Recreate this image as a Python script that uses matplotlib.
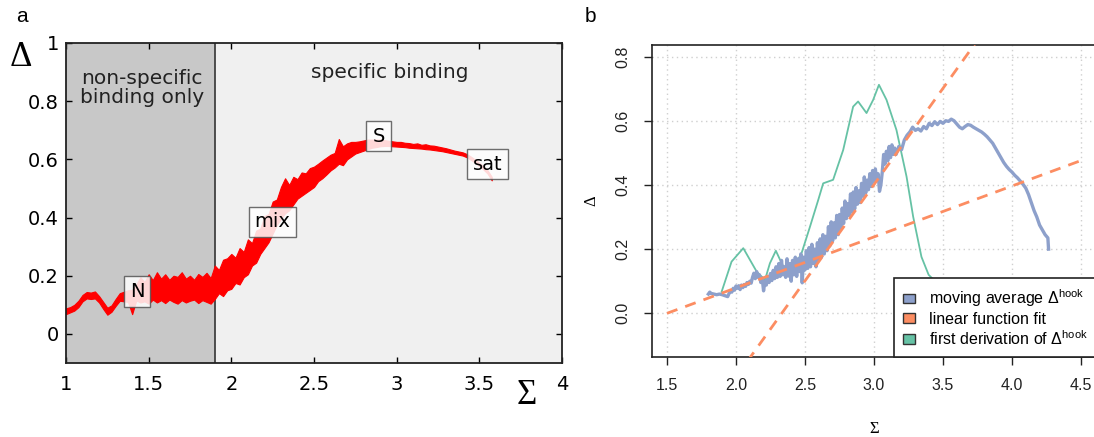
import numpy as np
import matplotlib
matplotlib.use("Agg")
import matplotlib.pyplot as plt
from matplotlib.patches import Patch

plt.rcParams['mathtext.fontset'] = 'custom'
plt.rcParams['mathtext.rm'] = 'Liberation Sans'
plt.rcParams['mathtext.it'] = 'Liberation Sans:italic'

# ---- panel a: noisy Delta vs Sigma, drawn as lower/upper envelope ----
sigma_a = np.round(np.arange(1.0, 3.576, 0.025), 3)
delta_lo = [0.068, 0.074, 0.080, 0.092, 0.112, 0.122, 0.120, 0.122, 0.108, 0.086,
            0.066, 0.076, 0.096, 0.114, 0.112, 0.110, 0.068, 0.115, 0.108, 0.112,
            0.104, 0.118, 0.108, 0.116, 0.106, 0.118, 0.110, 0.104, 0.116, 0.108,
            0.114, 0.118, 0.106, 0.116, 0.110, 0.104, 0.120, 0.140, 0.130, 0.150,
            0.155, 0.175, 0.170, 0.195, 0.205, 0.235, 0.245, 0.275, 0.295, 0.315,
            0.345, 0.375, 0.395, 0.415, 0.425, 0.445, 0.465, 0.475, 0.485, 0.495,
            0.505, 0.525, 0.535, 0.548, 0.562, 0.572, 0.585, 0.580, 0.600, 0.610,
            0.620, 0.625, 0.630, 0.635, 0.640, 0.642, 0.645, 0.646, 0.646, 0.645,
            0.644, 0.643, 0.642, 0.640, 0.639, 0.638, 0.637, 0.635, 0.634, 0.632,
            0.630, 0.628, 0.625, 0.622, 0.619, 0.616, 0.613, 0.607, 0.598, 0.588,
            0.577, 0.565, 0.551, 0.528]
delta_hi = [0.088, 0.092, 0.100, 0.114, 0.134, 0.144, 0.142, 0.146, 0.130, 0.110,
            0.090, 0.098, 0.120, 0.140, 0.145, 0.150, 0.152, 0.170, 0.195, 0.178,
            0.205, 0.185, 0.212, 0.190, 0.205, 0.186, 0.200, 0.196, 0.212, 0.190,
            0.200, 0.186, 0.206, 0.196, 0.210, 0.192, 0.235, 0.220, 0.255, 0.260,
            0.275, 0.262, 0.295, 0.282, 0.325, 0.312, 0.355, 0.362, 0.405, 0.412,
            0.455, 0.462, 0.505, 0.535, 0.512, 0.540, 0.532, 0.555, 0.552, 0.570,
            0.575, 0.585, 0.596, 0.606, 0.616, 0.622, 0.670, 0.645, 0.655, 0.660,
            0.660, 0.662, 0.665, 0.668, 0.668, 0.668, 0.668, 0.666, 0.664, 0.662,
            0.660, 0.660, 0.657, 0.656, 0.653, 0.655, 0.650, 0.652, 0.648, 0.647,
            0.644, 0.641, 0.638, 0.634, 0.630, 0.627, 0.624, 0.618, 0.609, 0.599,
            0.588, 0.576, 0.562, 0.540]

region_split = 1.9
point_names = ['N', 'mix', 'S', 'sat']
point_sigma = [1.43, 2.25, 2.89, 3.55]
point_delta = [0.145, 0.385, 0.68, 0.584]

xticks_a = [1, 1.5, 2, 2.5, 3, 3.5, 4]
xticklabels_a = ['1', '1.5', '2', '2.5', '3', '3.5', '4']
yticks_a = [0, 0.2, 0.4, 0.6, 0.8, 1]
yticklabels_a = ['0', '0.2', '0.4', '0.6', '0.8', '1']

# ---- panel b: moving average, linear fits, derivative ----
sigma_b = [1.80, 1.81, 1.82, 1.84, 1.86, 1.88, 1.90, 1.92, 1.94, 1.95,
           1.96, 1.97, 1.98, 1.99, 2.00, 2.01, 2.02, 2.03, 2.04, 2.05,
           2.06, 2.07, 2.08, 2.09, 2.10, 2.11, 2.12, 2.13, 2.14, 2.15,
           2.16, 2.17, 2.18, 2.19, 2.20, 2.21, 2.22, 2.23, 2.24, 2.25,
           2.26, 2.27, 2.28, 2.29, 2.30, 2.31, 2.32, 2.33, 2.34, 2.35,
           2.36, 2.37, 2.38, 2.39, 2.40, 2.41, 2.42, 2.43, 2.44, 2.45,
           2.46, 2.47, 2.48, 2.49, 2.50, 2.51, 2.52, 2.53, 2.54, 2.55,
           2.56, 2.57, 2.58, 2.59, 2.60, 2.61, 2.62, 2.63, 2.64, 2.65,
           2.66, 2.67, 2.68, 2.69, 2.70, 2.71, 2.72, 2.73, 2.74, 2.75,
           2.76, 2.77, 2.78, 2.79, 2.80, 2.81, 2.82, 2.83, 2.84, 2.85,
           2.86, 2.87, 2.88, 2.89, 2.90, 2.91, 2.92, 2.93, 2.94, 2.95,
           2.96, 2.97, 2.98, 2.99, 3.00, 3.01, 3.02, 3.03, 3.04, 3.05,
           3.06, 3.07, 3.08, 3.09, 3.10, 3.11, 3.12, 3.13, 3.14, 3.15,
           3.16, 3.18, 3.20, 3.22, 3.24, 3.26, 3.28, 3.30, 3.32, 3.34,
           3.36, 3.38, 3.40, 3.42, 3.44, 3.46, 3.48, 3.50, 3.52, 3.54,
           3.56, 3.58, 3.60, 3.62, 3.64, 3.66, 3.68, 3.70, 3.72, 3.74,
           3.76, 3.78, 3.80, 3.82, 3.84, 3.86, 3.88, 3.90, 3.92, 3.94,
           3.96, 3.98, 4.00, 4.02, 4.04, 4.06, 4.08, 4.10, 4.12, 4.14,
           4.16, 4.18, 4.20, 4.22, 4.24, 4.26, 4.265]
delta_b = [0.060, 0.066, 0.062, 0.060, 0.058, 0.060, 0.058, 0.055, 0.052, 0.062,
           0.070, 0.066, 0.078, 0.072, 0.085, 0.078, 0.086, 0.074, 0.088, 0.080,
           0.090, 0.084, 0.096, 0.090, 0.100, 0.094, 0.112, 0.125, 0.108, 0.130,
           0.112, 0.120, 0.096, 0.110, 0.070, 0.100, 0.088, 0.115, 0.096, 0.124,
           0.102, 0.134, 0.108, 0.145, 0.112, 0.155, 0.115, 0.165, 0.120, 0.145,
           0.112, 0.170, 0.116, 0.155, 0.100, 0.165, 0.120, 0.175, 0.115, 0.170,
           0.130, 0.185, 0.095, 0.175, 0.135, 0.195, 0.140, 0.205, 0.145, 0.215,
           0.155, 0.200, 0.145, 0.220, 0.165, 0.232, 0.175, 0.245, 0.185, 0.240,
           0.195, 0.270, 0.210, 0.285, 0.225, 0.282, 0.235, 0.305, 0.245, 0.308,
           0.265, 0.328, 0.280, 0.350, 0.295, 0.342, 0.305, 0.372, 0.315, 0.378,
           0.325, 0.392, 0.340, 0.382, 0.345, 0.405, 0.365, 0.425, 0.375, 0.415,
           0.385, 0.435, 0.395, 0.445, 0.410, 0.450, 0.415, 0.435, 0.380, 0.400,
           0.440, 0.495, 0.465, 0.505, 0.475, 0.520, 0.485, 0.525, 0.495, 0.515,
           0.495, 0.520, 0.510, 0.540, 0.555, 0.565, 0.580, 0.570, 0.575, 0.568,
           0.582, 0.575, 0.592, 0.585, 0.597, 0.588, 0.598, 0.592, 0.600, 0.598,
           0.605, 0.600, 0.590, 0.580, 0.575, 0.582, 0.588, 0.586, 0.580, 0.575,
           0.570, 0.565, 0.558, 0.550, 0.540, 0.530, 0.515, 0.500, 0.485, 0.470,
           0.458, 0.448, 0.440, 0.430, 0.422, 0.412, 0.402, 0.390, 0.370, 0.345,
           0.320, 0.300, 0.275, 0.260, 0.245, 0.235, 0.200]

deriv_sigma = [1.896, 1.968, 2.053, 2.15, 2.21, 2.246, 2.289, 2.354, 2.415, 2.475,
               2.535, 2.596, 2.632, 2.704, 2.777, 2.849, 2.885, 2.946, 2.994, 3.036,
               3.091, 3.163, 3.236, 3.284, 3.344, 3.396, 3.434, 3.47]
deriv_delta = [0.067, 0.161, 0.203, 0.130, 0.104, 0.156, 0.195, 0.135, 0.140, 0.187,
               0.268, 0.353, 0.405, 0.416, 0.509, 0.644, 0.660, 0.624, 0.665, 0.712,
               0.665, 0.571, 0.426, 0.301, 0.176, 0.120, 0.104, 0.08]

fit1_sigma = [1.5, 4.5]
fit1_delta = [0.0, 0.476]
fit2_sigma = [2.0, 3.8]
fit2_delta = [-0.199, 0.881]

xticks_b = [1.5, 2.0, 2.5, 3.0, 3.5, 4.0, 4.5]
yticks_b = [0.0, 0.2, 0.4, 0.6, 0.8]

c_blue = '#8da0cb'
c_orange = '#fc8d62'
c_green = '#66c2a5'

fig = plt.figure(figsize=(10.94, 4.37), dpi=100)

# ---------------- panel a ----------------
ax = fig.add_axes([66 / 1094, 1 - 363 / 437, 496 / 1094, 320 / 437])
ax.set_xlim(1, 4)
ax.set_ylim(-0.1, 1)
ax.axvspan(1, region_split, color='#c8c8c8', zorder=0)
ax.axvspan(region_split, 4, color='#f0f0f0', zorder=0)
ax.axvline(region_split, color='#333333', lw=1.2, zorder=1)
ax.fill_between(sigma_a, delta_lo, delta_hi, color='red', lw=0.8, edgecolor='red', zorder=2)

for name, sx, sy in zip(point_names, point_sigma, point_delta):
    ax.text(sx, sy, name, ha='center', va='center', fontsize=14, family='DejaVu Sans',
            zorder=3, bbox=dict(boxstyle='square,pad=0.3', facecolor='white', alpha=0.85,
                                edgecolor='#555555', lw=1))

ax.text(1.46, 0.845, 'non-specific\nbinding only', ha='center', va='center',
        fontsize=14.5, color='#222222', linespacing=1.05)
ax.text(2.96, 0.90, 'specific binding', ha='center', va='center',
        fontsize=14.5, color='#222222')

ax.set_xticks(xticks_a)
ax.set_xticklabels(xticklabels_a)
ax.set_yticks(yticks_a)
ax.set_yticklabels(yticklabels_a)
ax.tick_params(direction='in', top=True, right=True, length=4, width=1, labelsize=14)
ax.tick_params(axis='x', pad=9)
ax.tick_params(axis='y', pad=5)
for sp in ax.spines.values():
    sp.set_color('#222222')
    sp.set_linewidth(1.3)

fig.text(21 / 1094, 1 - 58 / 437, '\u0394', family='Liberation Serif', fontsize=25,
         ha='center', va='center')
fig.text(527 / 1094, 1 - 396 / 437, '\u03a3', family='Liberation Serif', fontsize=25,
         ha='center', va='center')
fig.text(22 / 1094, 1 - 17 / 437, 'a', family='Liberation Sans', fontsize=15,
         ha='center', va='center')

# ---------------- panel b ----------------
ax2 = fig.add_axes([651.5 / 1094, 1 - 357.3 / 437, (1097 - 651.5) / 1094, 312.3 / 437])
ax2.set_xlim(1.388, 4.616)
ax2.set_ylim(-0.137, 0.836)
for gx in xticks_b:
    ax2.axvline(gx, color='#cfcfcf', lw=1, ls=(0, (1, 2.5)), zorder=0)
for gy in yticks_b:
    ax2.axhline(gy, color='#cfcfcf', lw=1, ls=(0, (1, 2.5)), zorder=0)

ax2.plot(deriv_sigma, deriv_delta, color=c_green, lw=1.3, zorder=2)
ax2.plot(sigma_b, delta_b, color=c_blue, lw=2.4, zorder=3)
ax2.plot(fit1_sigma, fit1_delta, color=c_orange, lw=2, ls=(0, (4, 3)), zorder=4)
ax2.plot(fit2_sigma, fit2_delta, color=c_orange, lw=2, ls=(0, (4, 3)), zorder=4)

ax2.set_xticks(xticks_b)
ax2.set_xticklabels(['%.1f' % v for v in xticks_b], family='Liberation Sans')
ax2.set_yticks(yticks_b)
ax2.set_yticklabels(['%.1f' % v for v in yticks_b], family='Liberation Sans',
                    rotation=90, va='center')
ax2.tick_params(direction='out', length=6, width=1, labelsize=11.5, pad=9,
                colors='#222222')
for sp in ax2.spines.values():
    sp.set_color('#222222')
    sp.set_linewidth(1.2)
ax2.set_xlabel('\u03a3', family='Liberation Serif', fontsize=12, labelpad=20)
ax2.set_ylabel('\u0394', family='Liberation Serif', fontsize=12, labelpad=12)

handles = [Patch(facecolor=c_blue, edgecolor='#333333', lw=1),
           Patch(facecolor=c_orange, edgecolor='#333333', lw=1),
           Patch(facecolor=c_green, edgecolor='#333333', lw=1)]
labels = ['moving average \u0394$^{\\mathrm{hook}}$', 'linear function fit',
          'first derivation of \u0394$^{\\mathrm{hook}}$']
leg = ax2.legend(handles, labels, loc='lower left', bbox_to_anchor=(3.144, -0.137),
                 bbox_transform=ax2.transData, borderaxespad=0, frameon=True,
                 fancybox=False, framealpha=1, edgecolor='#222222',
                 prop={'family': 'Liberation Sans', 'size': 11.5},
                 handlelength=0.75, handleheight=0.56, handletextpad=0.85,
                 labelspacing=0.15, borderpad=0.6)
leg.get_frame().set_linewidth(1.2)
leg.set_zorder(5)

fig.text(590 / 1094, 1 - 17 / 437, 'b', family='Liberation Sans', fontsize=15,
         ha='center', va='center')

plt.savefig('out.png', dpi=100)
